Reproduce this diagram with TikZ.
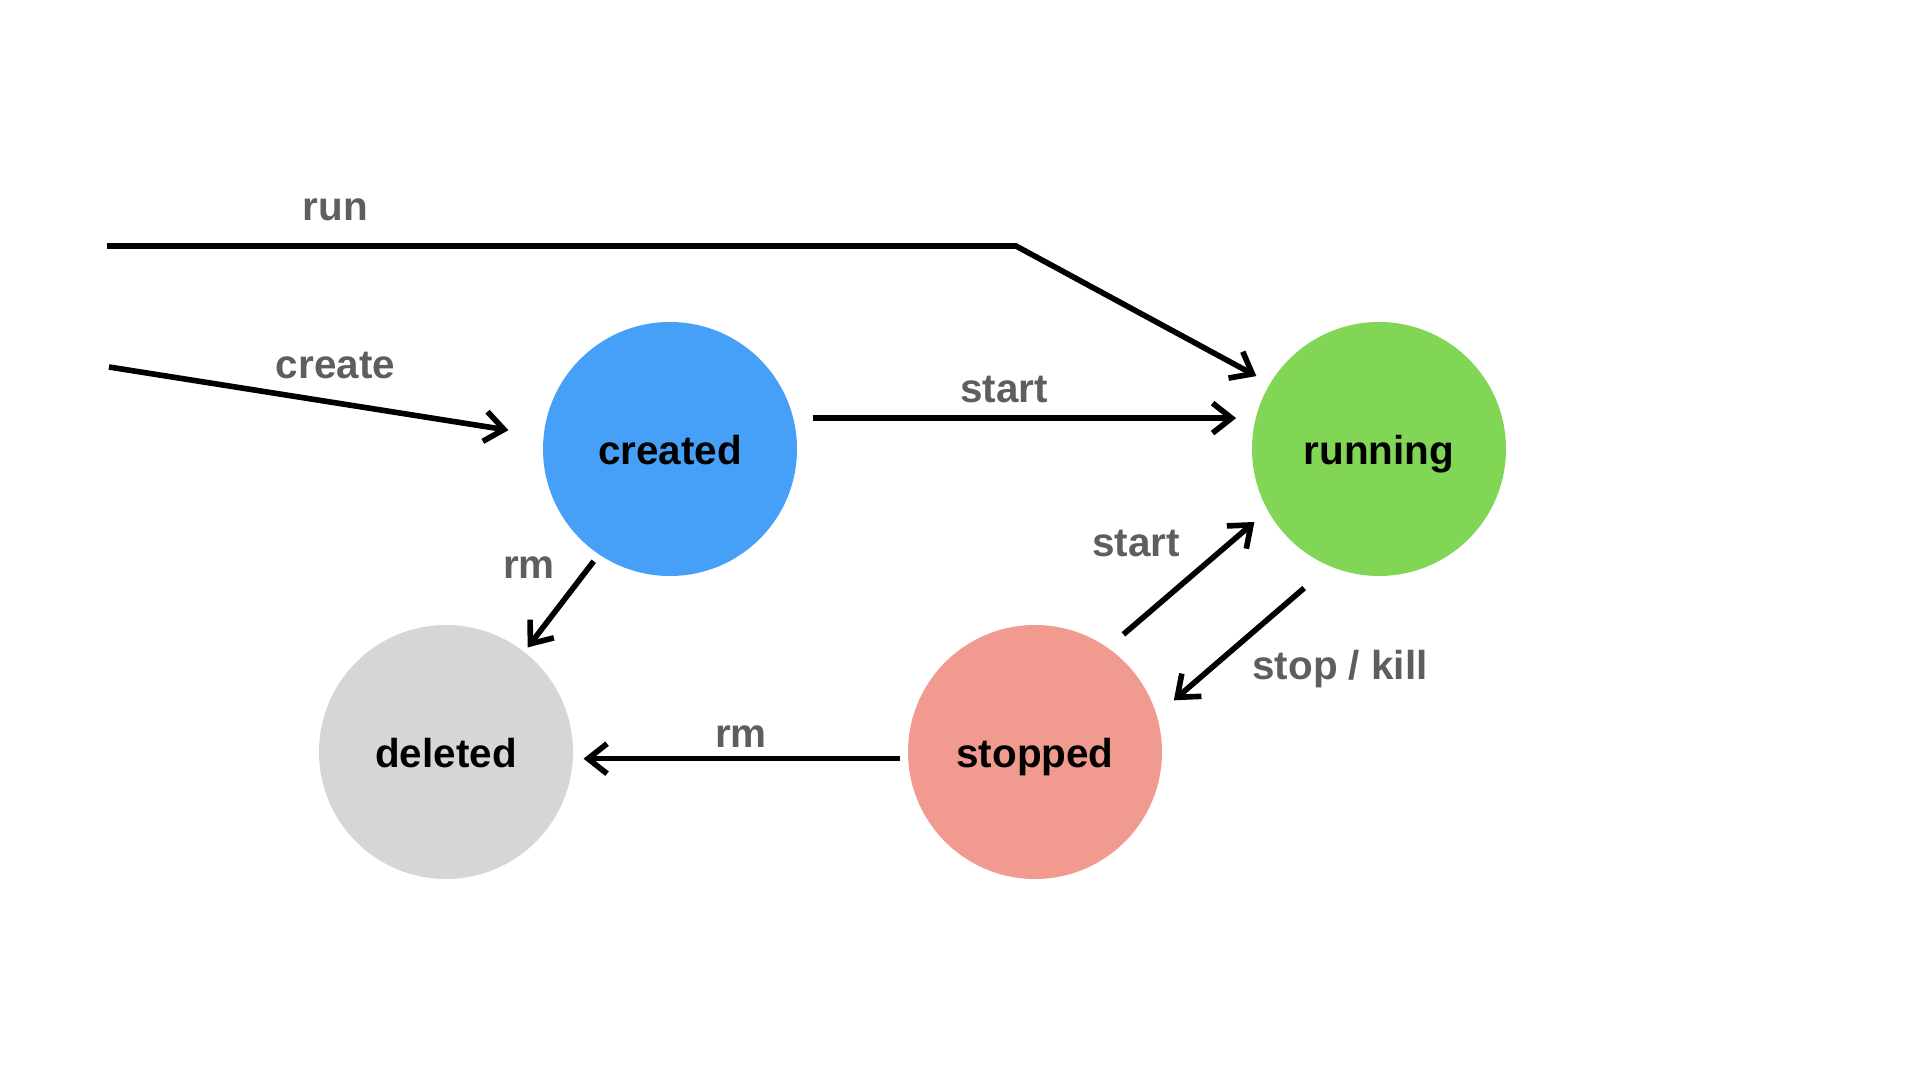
\documentclass[tikz,border=0pt]{standalone}
\usepackage{fontspec}
\setmainfont{Liberation Sans}
\usepackage{tikz}
\usetikzlibrary{arrows.meta}
\definecolor{createdblue}{HTML}{47A0F8}
\definecolor{runninggreen}{HTML}{82D656}
\definecolor{deletedgray}{HTML}{D6D6D6}
\definecolor{stoppedred}{HTML}{F19A8F}
\colorlet{labelgray}{black!63}

\begin{document}
\begin{tikzpicture}[
  x=1cm, y=1cm,
  every state/.style={circle, minimum size=2.54cm, inner sep=0pt,
    text height=1.7ex, text depth=0pt,
    font=\fontsize{11.5}{14}\selectfont\bfseries},
  every move/.style={line width=1.6pt, -{Straight Barb[length=0.19cm, width=0.3cm]}},
  every verb/.style={font=\fontsize{11.5}{14}\selectfont\bfseries, text=labelgray,
    text height=1.7ex, text depth=0pt}
]
\useasboundingbox (0,0) rectangle (19.2,-10.8);

\node[every state, fill=createdblue, name=created] at (6.70,-4.49) {created};
\node[every state, fill=runninggreen, name=running] at (13.79,-4.49) {running};
\node[every state, fill=deletedgray, name=deleted] at (4.46,-7.52) {deleted};
\node[every state, fill=stoppedred, name=stopped] at (10.35,-7.52) {stopped};

\coordinate (run-in) at (1.07,-2.46);
\coordinate (run-bend) at (10.16,-2.46);
\coordinate (create-in) at (1.09,-3.67);

\draw[every move, shorten >=0.15cm] (run-in) -- (run-bend) -- (running.149);
\draw[every move, shorten >=0.35cm] (create-in) -- (created.174.3);
\draw[every move, shorten <=0.19cm, shorten >=0.19cm] (created.14) -- (running.166);
\draw[every move, shorten <=0.08cm, shorten >=0.05cm] (created.236.4) -- (deleted.52);
\draw[every move, shorten <=0.20cm, shorten >=0.17cm] (stopped.55.7) -- (running.209.2);
\draw[every move, shorten <=0.33cm, shorten >=0.22cm] (running.247.6) -- (stopped.17.4);
\draw[every move, shorten <=0.07cm, shorten >=0.10cm] (stopped.183.4) -- (deleted.-3.3);

\node[every verb, name=run-label] at (3.355,-2.045) {run};
\node[every verb, name=create-label] at (3.355,-3.624) {create};
\node[every verb, name=start-label] at (10.04,-3.87) {start};
\node[every verb, name=rm-label] at (5.29,-5.63) {rm};
\node[every verb, name=restart-label] at (11.36,-5.41) {start};
\node[every verb, name=stop-label] at (13.40,-6.64) {stop / kill};
\node[every verb, name=remove-label] at (7.41,-7.32) {rm};
\end{tikzpicture}
\end{document}
